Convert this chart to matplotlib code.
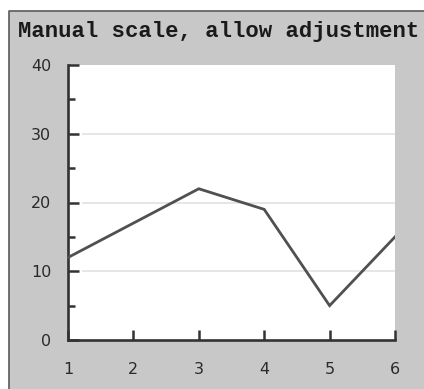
import matplotlib.pyplot as plt
from matplotlib.patches import Rectangle
from matplotlib.lines import Line2D

x_values = [1, 2, 3, 4, 5, 6]
y_values = [12, 17, 22, 19, 5, 15]
y_major = [0, 10, 20, 30, 40]
y_minor = [5, 15, 25, 35]
grid_levels = [10, 20, 30]
title = "Manual scale, allow adjustment"

W, H = 424, 389
fig = plt.figure(figsize=(W / 100, H / 100), dpi=100)
fig.patch.set_facecolor("white")

# gray panel with a dark edge on top and left, kept behind the axes
fig.patches.append(Rectangle((8.5 / W, 0), 1, (H - 10.5) / H, transform=fig.transFigure,
                             facecolor="#c8c8c8", edgecolor="none", zorder=-2))
fig.lines.append(Line2D([8.5 / W, 8.5 / W, 1], [0, (H - 10.5) / H, (H - 10.5) / H],
                        transform=fig.transFigure, color="#5a5a5a", lw=1.2, zorder=-1))

fig.text(18 / W, (H - 36.5) / H, title, family="Liberation Mono", weight="bold",
         fontsize=16, color="#1a1a1a", va="baseline", ha="left")

ax = fig.add_axes([68 / W, (H - 340) / H, (395 - 68) / W, (340 - 65) / H])
ax.set_facecolor("white")
ax.set_xlim(1, 6)
ax.set_ylim(0, 40)

for g in grid_levels:
    ax.axhline(g, xmin=0.045, xmax=1, color="#e4e4e4", lw=1.3, zorder=1)

ax.plot(x_values, y_values, color="#505050", lw=2, zorder=3, solid_joinstyle="miter")

for side in ["top", "right"]:
    ax.spines[side].set_visible(False)
for side in ["left", "bottom"]:
    ax.spines[side].set_color("#333333")
    ax.spines[side].set_linewidth(1.9)

ax.set_xticks(x_values)
ax.set_yticks(y_major)
ax.set_yticks(y_minor, minor=True)
ax.tick_params(axis="x", direction="in", length=7.5, width=1.8, color="#333333",
               labelsize=11.5, labelcolor="#2a2a2a", pad=15.5)
ax.tick_params(axis="y", which="major", direction="in", length=8, width=1.8,
               color="#333333", labelsize=11.5, labelcolor="#2a2a2a", pad=12)
ax.tick_params(axis="y", which="minor", direction="in", length=5, width=1.8,
               color="#333333")

fig.savefig("out.png", dpi=100)
